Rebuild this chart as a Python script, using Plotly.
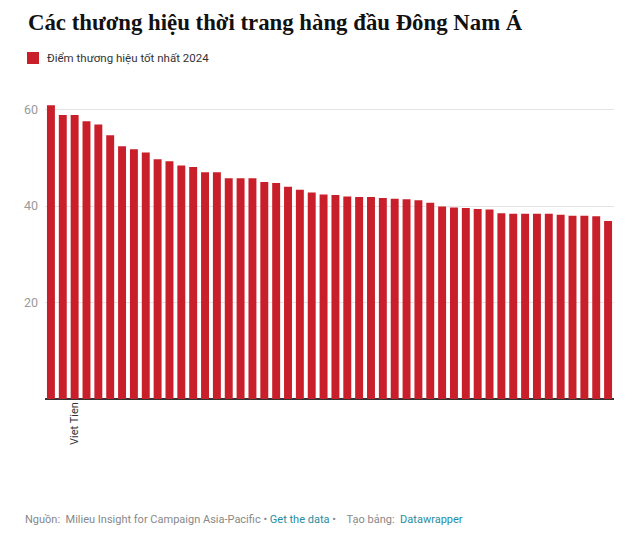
import plotly.graph_objects as go

# ---- data ----
scores = [60.9, 58.9, 58.9, 57.6, 56.9, 54.7, 52.4, 51.8, 51.1, 49.7,
          49.3, 48.4, 48.1, 47.0, 47.0, 45.8, 45.8, 45.8, 45.0, 44.8,
          44.0, 43.4, 42.8, 42.4, 42.3, 42.0, 41.9, 41.9, 41.7, 41.5,
          41.4, 41.2, 40.7, 39.9, 39.7, 39.6, 39.4, 39.3, 38.5, 38.4,
          38.4, 38.4, 38.4, 38.2, 38.0, 38.0, 37.9, 36.9]
brand_labels = [""] * len(scores)
brand_labels[2] = "Viet Tien"
y_ticks = [20, 40, 60]
series_name = "Điểm thương hiệu tốt nhất 2024"
title_text = "Các thương hiệu thời trang hàng đầu Đông Nam Á"

# ---- layout constants (page pixels; the page body adds an 8px margin) ----
OFF = 8
W, H = 640 - OFF, 552 - OFF
ML, MT = 45 - OFF, 100 - OFF
PLOT_RIGHT, PLOT_BOTTOM = 614 - OFF, 399 - OFF
MR, MB = W - PLOT_RIGHT, H - PLOT_BOTTOM
PW, PH = W - ML - MR, H - MT - MB
RED = "#c91f2b"
LINK = "#2a8ca0"

def px(x):
    return (x - OFF - ML) / PW

def py(y):
    return (PLOT_BOTTOM - (y - OFF)) / PH

positions = list(range(len(scores)))

fig = go.Figure()
fig.add_trace(go.Bar(
    x=positions, y=scores, marker=dict(color=RED, line=dict(width=0)),
    name=series_name, showlegend=False, hoverinfo="y"))

fig.update_layout(
    width=W, height=H,
    margin=dict(l=ML, r=MR, t=MT, b=MB, autoexpand=False),
    paper_bgcolor="white", plot_bgcolor="white",
    bargap=0.33,
    title=dict(text="<b>" + title_text + "</b>", x=(28 - OFF) / W, xanchor="left",
               xref="container", yref="container", y=1 - (22 - OFF) / H, yanchor="middle",
               font=dict(family="Liberation Serif", size=22.8, color="#111111")),
    xaxis=dict(range=[-0.5, len(scores) - 0.5], tickmode="array",
               tickvals=positions, ticktext=brand_labels, tickangle=-90,
               tickfont=dict(family="Roboto", size=11, color="#333333"),
               showgrid=False, zeroline=False, showline=False, ticks=""),
    yaxis=dict(range=[0, 62], tickmode="array", tickvals=y_ticks,
               tickfont=dict(family="Roboto", size=12.5, color="#9a9a9a"),
               showgrid=True, gridcolor="#e4e4e4", gridwidth=1,
               zeroline=True, zerolinecolor="#333333", zerolinewidth=1.5,
               showline=False, ticks="", ticklabelstandoff=6),
    font=dict(family="Roboto"),
)

# legend (manual)
fig.add_shape(type="rect", xref="paper", yref="paper",
              x0=px(27), x1=px(39), y0=py(64), y1=py(52),
              fillcolor=RED, line=dict(width=0))
fig.add_annotation(xref="paper", yref="paper", x=px(45), y=py(58),
                   xanchor="left", yanchor="middle", showarrow=False,
                   text=series_name,
                   font=dict(family="Roboto", size=11.5, color="#333333"))

# footer
footer = ("Nguồn:\u00a0 Milieu Insight for Campaign Asia-Pacific • "
          f"<span style='color:{LINK}'>Get the data</span> •\u00a0\u00a0\u00a0 Tạo bảng:\u00a0 "
          f"<span style='color:{LINK}'>Datawrapper</span>")
fig.add_annotation(xref="paper", yref="paper", x=px(23), y=py(519),
                   xanchor="left", yanchor="middle", showarrow=False,
                   text=footer,
                   font=dict(family="Roboto", size=11, color="#888888"))

fig.write_html("out.html")
